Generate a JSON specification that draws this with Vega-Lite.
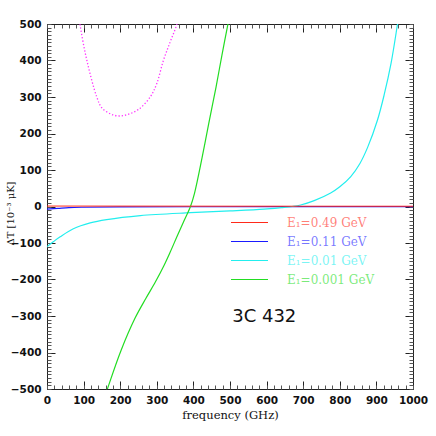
{
  "$schema": "https://vega.github.io/schema/vega-lite/v6.json",
  "autosize": {"type": "none"},
  "width": 366,
  "height": 365,
  "padding": {"left": 47, "top": 24, "right": 23, "bottom": 47},
  "background": "white",
  "config": {
    "view": {"stroke": "#222", "strokeWidth": 1},
    "axis": {"domain": false, "grid": false, "tickColor": "#222", "labelFont": "DejaVu Sans", "labelFontWeight": "bold", "labelFontSize": 10.5, "labelColor": "#111", "titleFont": "DejaVu Serif", "titleFontWeight": "normal", "titleFontSize": 11.5, "titleColor": "#111"}
  },
  "datasets": {
    "curves": [
      {"series": "E₁=0.11 GeV", "freq": 0, "dT": -7},
      {"series": "E₁=0.11 GeV", "freq": 30, "dT": -5},
      {"series": "E₁=0.11 GeV", "freq": 60, "dT": -3},
      {"series": "E₁=0.11 GeV", "freq": 100, "dT": -2},
      {"series": "E₁=0.11 GeV", "freq": 200, "dT": -1},
      {"series": "E₁=0.11 GeV", "freq": 400, "dT": -0.7},
      {"series": "E₁=0.11 GeV", "freq": 1000, "dT": -0.6},
      {"series": "E₁=0.01 GeV", "freq": 0, "dT": -110},
      {"series": "E₁=0.01 GeV", "freq": 18, "dT": -96},
      {"series": "E₁=0.01 GeV", "freq": 36, "dT": -83},
      {"series": "E₁=0.01 GeV", "freq": 72, "dT": -61},
      {"series": "E₁=0.01 GeV", "freq": 118, "dT": -45},
      {"series": "E₁=0.01 GeV", "freq": 163, "dT": -36},
      {"series": "E₁=0.01 GeV", "freq": 255, "dT": -25},
      {"series": "E₁=0.01 GeV", "freq": 392, "dT": -17},
      {"series": "E₁=0.01 GeV", "freq": 500, "dT": -12},
      {"series": "E₁=0.01 GeV", "freq": 593, "dT": -7},
      {"series": "E₁=0.01 GeV", "freq": 640, "dT": -3},
      {"series": "E₁=0.01 GeV", "freq": 670, "dT": 0},
      {"series": "E₁=0.01 GeV", "freq": 693, "dT": 4},
      {"series": "E₁=0.01 GeV", "freq": 730, "dT": 16},
      {"series": "E₁=0.01 GeV", "freq": 775, "dT": 37},
      {"series": "E₁=0.01 GeV", "freq": 800, "dT": 54},
      {"series": "E₁=0.01 GeV", "freq": 830, "dT": 82},
      {"series": "E₁=0.01 GeV", "freq": 855, "dT": 118},
      {"series": "E₁=0.01 GeV", "freq": 876, "dT": 162},
      {"series": "E₁=0.01 GeV", "freq": 903, "dT": 237},
      {"series": "E₁=0.01 GeV", "freq": 921, "dT": 305},
      {"series": "E₁=0.01 GeV", "freq": 940, "dT": 392},
      {"series": "E₁=0.01 GeV", "freq": 958, "dT": 502},
      {"series": "E₁=0.01 GeV", "freq": 970, "dT": 580},
      {"series": "E₁=0.001 GeV", "freq": 150, "dT": -545},
      {"series": "E₁=0.001 GeV", "freq": 165, "dT": -500},
      {"series": "E₁=0.001 GeV", "freq": 202, "dT": -395},
      {"series": "E₁=0.001 GeV", "freq": 241, "dT": -305},
      {"series": "E₁=0.001 GeV", "freq": 270, "dT": -252},
      {"series": "E₁=0.001 GeV", "freq": 296, "dT": -207},
      {"series": "E₁=0.001 GeV", "freq": 319, "dT": -163},
      {"series": "E₁=0.001 GeV", "freq": 337, "dT": -124},
      {"series": "E₁=0.001 GeV", "freq": 357, "dT": -78},
      {"series": "E₁=0.001 GeV", "freq": 375, "dT": -38},
      {"series": "E₁=0.001 GeV", "freq": 392, "dT": 0},
      {"series": "E₁=0.001 GeV", "freq": 403, "dT": 36},
      {"series": "E₁=0.001 GeV", "freq": 424, "dT": 135},
      {"series": "E₁=0.001 GeV", "freq": 442, "dT": 228},
      {"series": "E₁=0.001 GeV", "freq": 462, "dT": 328},
      {"series": "E₁=0.001 GeV", "freq": 478, "dT": 415},
      {"series": "E₁=0.001 GeV", "freq": 496, "dT": 508},
      {"series": "E₁=0.001 GeV", "freq": 510, "dT": 580},
      {"series": "E₁=0.49 GeV", "freq": 0, "dT": 1.2},
      {"series": "E₁=0.49 GeV", "freq": 500, "dT": 0.8},
      {"series": "E₁=0.49 GeV", "freq": 1000, "dT": 0.7}
    ],
    "dotted": [
      {"freq": 80, "dT": 580},
      {"freq": 90, "dT": 500},
      {"freq": 109, "dT": 400},
      {"freq": 136, "dT": 300},
      {"freq": 150, "dT": 270},
      {"freq": 175, "dT": 253},
      {"freq": 197, "dT": 248},
      {"freq": 220, "dT": 252},
      {"freq": 250, "dT": 266},
      {"freq": 282, "dT": 300},
      {"freq": 300, "dT": 337},
      {"freq": 318, "dT": 400},
      {"freq": 337, "dT": 452},
      {"freq": 355, "dT": 500},
      {"freq": 368, "dT": 560}
    ],
    "label": [
      {"freq": 506, "dT": -302, "text": "3C 432"}
    ]
  },
  "resolve": {"axis": {"x": "independent", "y": "independent"}},
  "layer": [
    {
      "data": {"name": "curves"},
      "transform": [{"filter": "datum.series != 'E₁=0.49 GeV'"}],
      "mark": {"type": "line", "clip": true, "strokeWidth": 1.2, "interpolate": "catmull-rom"},
      "encoding": {
        "x": {"field": "freq", "type": "quantitative", "scale": {"domain": [0, 1000], "nice": false, "zero": false},
              "axis": {"orient": "bottom", "tickCount": 10, "format": "d", "tickSize": -8, "labelPadding": 14, "title": "frequency (GHz)", "titlePadding": 4, "labelFlush": false, "labelOverlap": false}},
        "y": {"field": "dT", "type": "quantitative", "scale": {"domain": [-500, 500], "nice": false, "zero": false},
              "axis": {"orient": "left", "tickCount": 10, "format": "d", "tickSize": -8, "labelPadding": 14, "title": "ΔT [10⁻³ μK]", "titleFontSize": 10, "titleX": -37, "titleY": 189, "titleAngle": -90, "titleAlign": "center", "titleBaseline": "middle", "labelFlush": false, "labelOverlap": false}},
        "color": {"field": "series", "type": "nominal",
                  "scale": {"domain": ["E₁=0.49 GeV", "E₁=0.11 GeV", "E₁=0.01 GeV", "E₁=0.001 GeV"], "range": ["#ff2a1a", "#1a1aff", "#22eeee", "#22dd22"]},
                  "legend": {"orient": "none", "legendX": 183, "legendY": 192, "title": null, "symbolType": "stroke", "symbolSize": 1369, "symbolStrokeWidth": 1.2, "clipHeight": 13, "labelFont": "DejaVu Serif", "labelFontSize": 12, "labelOffset": 18, "rowPadding": 6,
                             "encode": {"labels": {"update": {"fill": {"scale": "color", "field": "value"}, "fillOpacity": {"value": 0.6}}},
                                        "symbols": {"update": {"strokeOpacity": {"value": 1}, "stroke": {"signal": "datum.value === 'E₁=0.49 GeV' ? '#ff9090' : datum.value === 'E₁=0.11 GeV' ? '#8f8fff' : datum.value === 'E₁=0.01 GeV' ? '#88f6f6' : '#8fee8f'"}}}}}}
      }
    },
    {
      "data": {"name": "curves"},
      "transform": [{"filter": "datum.series == 'E₁=0.49 GeV'"}],
      "mark": {"type": "line", "clip": true, "strokeWidth": 1},
      "encoding": {
        "x": {"field": "freq", "type": "quantitative", "axis": {"orient": "bottom", "tickCount": 50, "tickSize": -4, "labels": false, "title": null, "tickColor": "#555"}},
        "y": {"field": "dT", "type": "quantitative", "axis": {"orient": "left", "tickCount": 100, "tickSize": -4, "labels": false, "title": null, "tickColor": "#555"}},
        "color": {"field": "series", "type": "nominal", "scale": {"domain": ["E₁=0.49 GeV", "E₁=0.11 GeV", "E₁=0.01 GeV", "E₁=0.001 GeV"], "range": ["#ff2a1a", "#1a1aff", "#22eeee", "#22dd22"]}}
      }
    },
    {
      "data": {"name": "dotted"},
      "mark": {"type": "line", "clip": true, "color": "#ff33ff", "strokeWidth": 1.3, "strokeDash": [1.3, 2], "interpolate": "catmull-rom"},
      "encoding": {
        "x": {"field": "freq", "type": "quantitative", "axis": {"orient": "top", "tickCount": 10, "tickSize": -8, "labels": false, "title": null}},
        "y": {"field": "dT", "type": "quantitative", "axis": {"orient": "right", "tickCount": 10, "tickSize": -8, "labels": false, "title": null}}
      }
    },
    {
      "data": {"name": "label"},
      "mark": {"type": "text", "align": "left", "baseline": "middle", "font": "DejaVu Sans", "fontSize": 18, "color": "#111"},
      "encoding": {
        "x": {"field": "freq", "type": "quantitative", "axis": {"orient": "top", "tickCount": 50, "tickSize": -4, "labels": false, "title": null, "tickColor": "#555"}},
        "y": {"field": "dT", "type": "quantitative", "axis": {"orient": "right", "tickCount": 100, "tickSize": -4, "labels": false, "title": null, "tickColor": "#555"}},
        "text": {"field": "text"}
      }
    }
  ]
}
